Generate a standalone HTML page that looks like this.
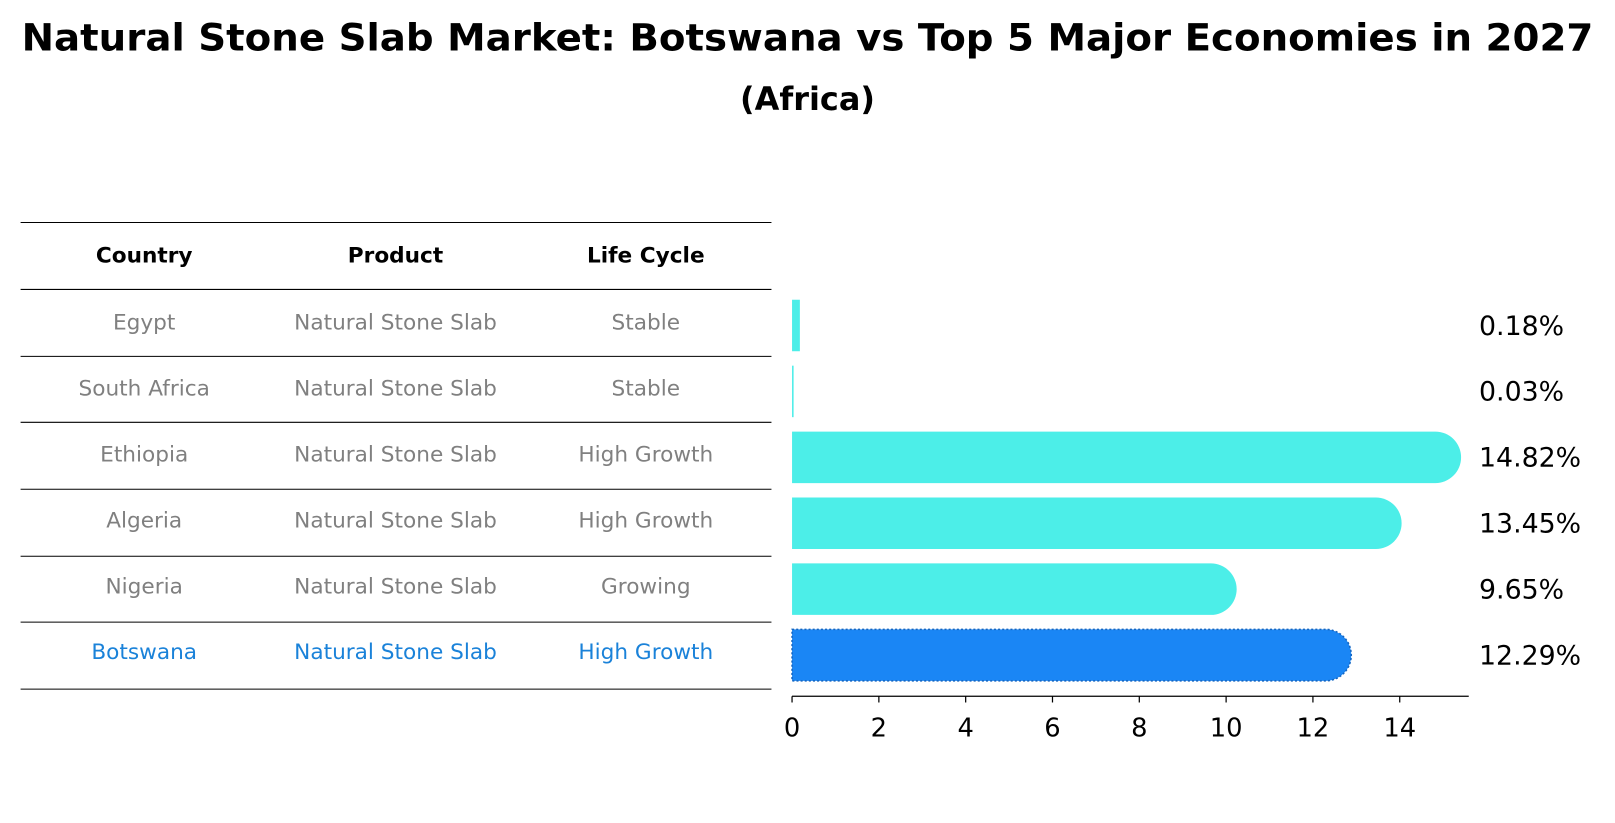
<!DOCTYPE html>
<html><head><meta charset="utf-8"><style>
body{margin:0;background:#fff;font-family:"Liberation Sans","DejaVu Sans",sans-serif;}
</style></head><body>
<svg width="1615" height="823" viewBox="0 0 1568 799" preserveAspectRatio="none" xmlns="http://www.w3.org/2000/svg" style="font-family:'DejaVu Sans','Liberation Sans',sans-serif;display:block">
<text x="784" y="49" text-anchor="middle" font-size="36" font-weight="bold" textLength="1526" lengthAdjust="spacingAndGlyphs">Natural Stone Slab Market: Botswana vs Top 5 Major Economies in 2027</text>
<text x="784" y="107" text-anchor="middle" font-size="31" font-weight="bold">(Africa)</text>
<g id="table"></g>
<g id="bars"></g>
</svg>
<script>
const countries=["Egypt","South Africa","Ethiopia","Algeria","Nigeria","Botswana"];
const products=["Natural Stone Slab","Natural Stone Slab","Natural Stone Slab","Natural Stone Slab","Natural Stone Slab","Natural Stone Slab"];
const lifeCycles=["Stable","Stable","High Growth","High Growth","Growing","High Growth"];
const values=[0.18,0.03,14.82,13.45,9.65,12.29];
const valueLabels=["0.18%","0.03%","14.82%","13.45%","9.65%","12.29%"];
const ticks=[0,2,4,6,8,10,12,14];
const NS="http://www.w3.org/2000/svg";
function mk(tag,attrs,parent){const e=document.createElementNS(NS,tag);for(const k in attrs)e.setAttribute(k,attrs[k]);parent.appendChild(e);return e;}
const x0=769,scale=590/14;
const xS=v=>x0+v*scale;
const rowY=i=>313+i*64;
const table=document.getElementById('table');
const lineYs=[216,281,346,410,475,540,604,669];
lineYs.forEach(y=>{const l=mk('line',{x1:20,x2:749,y1:y,y2:y,stroke:'#000','stroke-width':1},table);

});
const colX=[140,384,627];
["Country","Product","Life Cycle"].forEach((h,j)=>{const t=mk('text',{x:colX[j],y:255,'text-anchor':'middle','font-size':21,'font-weight':'bold'},table);t.textContent=h;

});
countries.forEach((c,i)=>{const cells=[c,products[i],lifeCycles[i]];const col=i===5?'#1a82d9':'#808080';
cells.forEach((s,j)=>{const t=mk('text',{x:colX[j],y:rowY(i)+7,'text-anchor':'middle','font-size':21,fill:col},table);t.textContent=s;

});});
const bars=document.getElementById('bars');
const bh=50,r=25;
values.forEach((v,i)=>{const cy=rowY(i)+3;const w=xS(v)-x0;const hl=i===5;
const fill=hl?'#1a86f5':'#4ceee8';
const g=mk('g',{},bars);


const top=cy-bh/2;
if(w>r){mk('path',{d:`M${x0},${top} H${x0+w} A${r},${r} 0 0 1 ${x0+w},${top+bh} H${x0} Z`,fill:fill,stroke:hl?'#1565c0':'none','stroke-dasharray':'2,2','stroke-width':hl?1.5:0},g);}
else{mk('rect',{x:x0,y:top,width:Math.max(w,1.5),height:bh,fill:fill},g);}
const t=mk('text',{x:1436,y:cy+9,'font-size':26},bars);t.textContent=valueLabels[i];

});
const ax=mk('line',{x1:x0,x2:1426,y1:676,y2:676,stroke:'#000','stroke-width':1.2},bars);


ticks.forEach(tv=>{const x=xS(tv);mk('line',{x1:x,x2:x,y1:676,y2:682,stroke:'#000','stroke-width':1.2},bars);
const t=mk('text',{x:x,y:715,'text-anchor':'middle','font-size':25},bars);t.textContent=tv;

});
</script>
</body></html>
